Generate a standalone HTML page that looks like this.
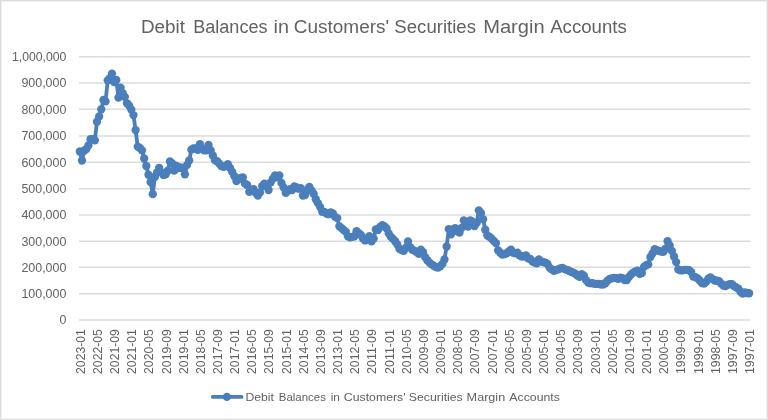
<!DOCTYPE html>
<html><head><meta charset="utf-8"><title>Debit Balances in Customers' Securities Margin Accounts</title>
<style>html,body{margin:0;padding:0;background:#fff;}svg{display:block;}text{font-family:"Liberation Sans",sans-serif;fill:#626262;}</style></head><body>
<svg width="768" height="420" viewBox="0 0 768 420">
<defs><filter id="tx" x="0" y="0" width="768" height="420" filterUnits="userSpaceOnUse"><feGaussianBlur stdDeviation="0.42"/></filter><filter id="tb" x="0" y="0" width="768" height="420" filterUnits="userSpaceOnUse"><feGaussianBlur stdDeviation="0.3"/></filter></defs>
<rect x="0" y="0" width="768" height="420" fill="#ffffff"/>
<g filter="url(#tb)">
<rect x="0.7" y="0.7" width="766.6" height="418.6" fill="none" stroke="#dcdcdc" stroke-width="1.4"/>
<line x1="79.00" y1="320.00" x2="750.40" y2="320.00" stroke="#dcdcdc" stroke-width="1.5"/>
<line x1="79.00" y1="293.70" x2="750.40" y2="293.70" stroke="#dcdcdc" stroke-width="1.5"/>
<line x1="79.00" y1="267.30" x2="750.40" y2="267.30" stroke="#dcdcdc" stroke-width="1.5"/>
<line x1="79.00" y1="241.25" x2="750.40" y2="241.25" stroke="#dcdcdc" stroke-width="1.5"/>
<line x1="79.00" y1="215.00" x2="750.40" y2="215.00" stroke="#dcdcdc" stroke-width="1.5"/>
<line x1="79.00" y1="188.70" x2="750.40" y2="188.70" stroke="#dcdcdc" stroke-width="1.5"/>
<line x1="79.00" y1="162.30" x2="750.40" y2="162.30" stroke="#dcdcdc" stroke-width="1.5"/>
<line x1="79.00" y1="135.95" x2="750.40" y2="135.95" stroke="#dcdcdc" stroke-width="1.5"/>
<line x1="79.00" y1="109.20" x2="750.40" y2="109.20" stroke="#dcdcdc" stroke-width="1.5"/>
<line x1="79.00" y1="83.00" x2="750.40" y2="83.00" stroke="#dcdcdc" stroke-width="1.5"/>
<line x1="79.00" y1="56.70" x2="750.40" y2="56.70" stroke="#dcdcdc" stroke-width="1.5"/>
<path d="M79.82 151.50 L81.97 160.53 L84.11 150.73 L86.26 149.15 L88.40 145.44 L90.55 139.14 L92.69 139.06 L94.84 140.30 L96.98 121.77 L99.13 116.45 L101.27 109.28 L103.42 99.95 L105.56 101.44 L107.71 80.37 L109.85 78.11 L112.00 73.56 L114.14 82.18 L116.29 79.98 L118.43 97.59 L120.58 87.69 L122.72 93.06 L124.87 96.83 L127.01 103.28 L129.16 105.61 L131.30 109.57 L133.45 115.08 L135.59 130.04 L137.74 146.67 L139.88 147.99 L142.03 150.31 L144.17 158.48 L146.32 166.00 L148.46 174.76 L150.61 182.18 L152.75 194.14 L154.90 176.79 L157.04 172.38 L159.19 167.79 L161.33 172.33 L163.48 174.97 L165.62 174.44 L167.77 170.75 L169.91 161.51 L172.06 163.28 L174.20 170.48 L176.35 166.00 L178.49 168.11 L180.64 167.32 L182.78 168.37 L184.93 174.36 L187.07 164.94 L189.22 160.32 L191.37 149.63 L193.51 148.49 L195.66 148.39 L197.80 149.92 L199.95 144.14 L202.09 148.52 L204.24 150.39 L206.38 150.42 L208.53 144.99 L210.67 150.44 L212.82 155.45 L214.96 160.19 L217.11 161.25 L219.25 163.62 L221.40 166.00 L223.54 166.79 L225.69 166.00 L227.83 164.15 L229.98 167.84 L232.12 171.80 L234.27 176.03 L236.41 181.04 L238.56 179.20 L240.70 177.88 L242.85 177.35 L244.99 183.68 L247.14 185.00 L249.28 191.86 L251.43 190.01 L253.57 189.23 L255.72 192.91 L257.86 195.54 L260.01 192.38 L262.15 186.06 L264.30 183.68 L266.44 186.06 L268.59 190.01 L270.73 182.36 L272.88 178.67 L275.02 175.50 L277.17 177.35 L279.31 175.50 L281.46 182.89 L283.60 187.38 L285.75 192.91 L287.89 191.07 L290.04 189.23 L292.18 190.01 L294.33 186.32 L296.47 187.38 L298.62 188.70 L300.76 188.17 L302.91 195.54 L305.05 195.01 L307.20 190.01 L309.34 186.85 L311.49 190.54 L313.63 193.70 L315.78 199.22 L317.92 203.17 L320.07 206.85 L322.21 211.84 L324.36 211.84 L326.50 213.69 L328.65 214.21 L330.79 212.37 L332.94 213.42 L335.08 216.84 L337.23 218.15 L339.37 226.29 L341.52 228.12 L343.66 229.96 L345.81 231.80 L347.95 236.26 L350.10 237.44 L352.24 236.79 L354.39 236.26 L356.53 231.27 L358.68 233.11 L360.82 234.95 L362.97 238.62 L365.11 240.46 L367.26 238.10 L369.40 236.26 L371.55 241.25 L373.69 238.62 L375.84 229.44 L377.98 229.96 L380.13 226.81 L382.27 225.24 L384.42 226.29 L386.56 228.39 L388.71 233.38 L390.85 236.79 L393.00 238.89 L395.14 241.25 L397.29 244.38 L399.43 248.80 L401.58 250.11 L403.72 250.89 L405.87 247.76 L408.01 241.51 L410.16 247.24 L412.30 249.85 L414.45 250.63 L416.60 252.19 L418.74 253.75 L420.89 249.59 L423.03 252.19 L425.18 257.14 L427.32 260.27 L429.47 262.61 L431.61 264.43 L433.76 265.74 L435.90 267.04 L438.05 267.56 L440.19 266.26 L442.34 263.91 L444.48 259.49 L446.63 246.46 L448.77 229.18 L450.92 234.43 L453.06 229.44 L455.21 228.12 L457.35 231.27 L459.50 232.59 L461.64 227.86 L463.79 220.35 L465.93 222.88 L468.08 226.55 L470.22 220.35 L472.37 221.56 L474.51 226.02 L476.66 222.88 L478.80 210.37 L480.95 212.90 L483.09 219.20 L485.24 229.70 L487.38 235.48 L489.53 236.79 L491.67 238.62 L493.82 240.99 L495.96 243.07 L498.11 250.37 L500.25 252.71 L502.40 254.54 L504.54 254.01 L506.69 253.36 L508.83 251.51 L510.98 249.59 L513.12 252.71 L515.27 253.36 L517.41 252.71 L519.56 255.32 L521.70 256.46 L523.85 256.46 L525.99 255.32 L528.14 258.31 L530.28 258.96 L532.43 261.41 L534.57 262.61 L536.72 263.26 L538.86 259.49 L541.01 261.41 L543.15 262.09 L545.30 262.61 L547.44 263.91 L549.59 267.56 L551.73 269.41 L553.88 270.73 L556.02 270.07 L558.17 269.28 L560.31 268.36 L562.46 267.83 L564.60 269.15 L566.75 269.94 L568.89 270.73 L571.04 271.79 L573.18 272.58 L575.33 273.77 L577.47 275.48 L579.62 276.80 L581.76 274.16 L583.91 275.75 L586.05 280.08 L588.20 282.61 L590.34 283.22 L592.49 283.22 L594.63 283.93 L596.78 283.93 L598.92 283.93 L601.07 284.46 L603.21 284.46 L605.36 283.22 L607.50 280.76 L609.65 278.92 L611.79 278.39 L613.94 277.86 L616.08 278.12 L618.23 278.92 L620.37 277.60 L622.52 278.12 L624.66 280.08 L626.81 280.08 L628.95 276.96 L631.10 274.43 L633.24 272.58 L635.39 271.31 L637.53 270.73 L639.68 273.90 L641.83 273.19 L643.97 266.94 L646.12 265.09 L648.26 264.43 L650.41 257.04 L652.55 253.31 L654.70 249.06 L656.84 250.24 L658.99 250.89 L661.13 251.67 L663.28 251.93 L665.42 248.80 L667.57 241.25 L669.71 245.42 L671.86 250.89 L674.00 256.46 L676.15 262.09 L678.29 269.41 L680.44 270.34 L682.58 270.34 L684.73 269.94 L686.87 269.94 L689.02 270.20 L691.16 272.05 L693.31 276.54 L695.45 277.07 L697.60 278.39 L699.74 280.50 L701.89 282.98 L704.03 283.67 L706.18 281.82 L708.32 278.65 L710.47 277.33 L712.61 279.18 L714.76 280.50 L716.90 280.76 L719.05 281.08 L721.19 283.67 L723.34 285.52 L725.48 286.10 L727.63 284.86 L729.77 284.20 L731.92 284.20 L734.06 286.10 L736.21 287.36 L738.35 288.68 L740.50 291.75 L742.64 293.62 L744.79 292.38 L746.93 292.99 L749.08 293.25" fill="none" stroke="#4c7fbc" stroke-width="3.8" stroke-linejoin="round" stroke-linecap="round"/>
<g fill="#4c7fbc">
<circle cx="79.82" cy="151.50" r="4.15"/>
<circle cx="81.97" cy="160.53" r="4.15"/>
<circle cx="84.11" cy="150.73" r="4.15"/>
<circle cx="86.26" cy="149.15" r="4.15"/>
<circle cx="88.40" cy="145.44" r="4.15"/>
<circle cx="90.55" cy="139.14" r="4.15"/>
<circle cx="92.69" cy="139.06" r="4.15"/>
<circle cx="94.84" cy="140.30" r="4.15"/>
<circle cx="96.98" cy="121.77" r="4.15"/>
<circle cx="99.13" cy="116.45" r="4.15"/>
<circle cx="101.27" cy="109.28" r="4.15"/>
<circle cx="103.42" cy="99.95" r="4.15"/>
<circle cx="105.56" cy="101.44" r="4.15"/>
<circle cx="107.71" cy="80.37" r="4.15"/>
<circle cx="109.85" cy="78.11" r="4.15"/>
<circle cx="112.00" cy="73.56" r="4.15"/>
<circle cx="114.14" cy="82.18" r="4.15"/>
<circle cx="116.29" cy="79.98" r="4.15"/>
<circle cx="118.43" cy="97.59" r="4.15"/>
<circle cx="120.58" cy="87.69" r="4.15"/>
<circle cx="122.72" cy="93.06" r="4.15"/>
<circle cx="124.87" cy="96.83" r="4.15"/>
<circle cx="127.01" cy="103.28" r="4.15"/>
<circle cx="129.16" cy="105.61" r="4.15"/>
<circle cx="131.30" cy="109.57" r="4.15"/>
<circle cx="133.45" cy="115.08" r="4.15"/>
<circle cx="135.59" cy="130.04" r="4.15"/>
<circle cx="137.74" cy="146.67" r="4.15"/>
<circle cx="139.88" cy="147.99" r="4.15"/>
<circle cx="142.03" cy="150.31" r="4.15"/>
<circle cx="144.17" cy="158.48" r="4.15"/>
<circle cx="146.32" cy="166.00" r="4.15"/>
<circle cx="148.46" cy="174.76" r="4.15"/>
<circle cx="150.61" cy="182.18" r="4.15"/>
<circle cx="152.75" cy="194.14" r="4.15"/>
<circle cx="154.90" cy="176.79" r="4.15"/>
<circle cx="157.04" cy="172.38" r="4.15"/>
<circle cx="159.19" cy="167.79" r="4.15"/>
<circle cx="161.33" cy="172.33" r="4.15"/>
<circle cx="163.48" cy="174.97" r="4.15"/>
<circle cx="165.62" cy="174.44" r="4.15"/>
<circle cx="167.77" cy="170.75" r="4.15"/>
<circle cx="169.91" cy="161.51" r="4.15"/>
<circle cx="172.06" cy="163.28" r="4.15"/>
<circle cx="174.20" cy="170.48" r="4.15"/>
<circle cx="176.35" cy="166.00" r="4.15"/>
<circle cx="178.49" cy="168.11" r="4.15"/>
<circle cx="180.64" cy="167.32" r="4.15"/>
<circle cx="182.78" cy="168.37" r="4.15"/>
<circle cx="184.93" cy="174.36" r="4.15"/>
<circle cx="187.07" cy="164.94" r="4.15"/>
<circle cx="189.22" cy="160.32" r="4.15"/>
<circle cx="191.37" cy="149.63" r="4.15"/>
<circle cx="193.51" cy="148.49" r="4.15"/>
<circle cx="195.66" cy="148.39" r="4.15"/>
<circle cx="197.80" cy="149.92" r="4.15"/>
<circle cx="199.95" cy="144.14" r="4.15"/>
<circle cx="202.09" cy="148.52" r="4.15"/>
<circle cx="204.24" cy="150.39" r="4.15"/>
<circle cx="206.38" cy="150.42" r="4.15"/>
<circle cx="208.53" cy="144.99" r="4.15"/>
<circle cx="210.67" cy="150.44" r="4.15"/>
<circle cx="212.82" cy="155.45" r="4.15"/>
<circle cx="214.96" cy="160.19" r="4.15"/>
<circle cx="217.11" cy="161.25" r="4.15"/>
<circle cx="219.25" cy="163.62" r="4.15"/>
<circle cx="221.40" cy="166.00" r="4.15"/>
<circle cx="223.54" cy="166.79" r="4.15"/>
<circle cx="225.69" cy="166.00" r="4.15"/>
<circle cx="227.83" cy="164.15" r="4.15"/>
<circle cx="229.98" cy="167.84" r="4.15"/>
<circle cx="232.12" cy="171.80" r="4.15"/>
<circle cx="234.27" cy="176.03" r="4.15"/>
<circle cx="236.41" cy="181.04" r="4.15"/>
<circle cx="238.56" cy="179.20" r="4.15"/>
<circle cx="240.70" cy="177.88" r="4.15"/>
<circle cx="242.85" cy="177.35" r="4.15"/>
<circle cx="244.99" cy="183.68" r="4.15"/>
<circle cx="247.14" cy="185.00" r="4.15"/>
<circle cx="249.28" cy="191.86" r="4.15"/>
<circle cx="251.43" cy="190.01" r="4.15"/>
<circle cx="253.57" cy="189.23" r="4.15"/>
<circle cx="255.72" cy="192.91" r="4.15"/>
<circle cx="257.86" cy="195.54" r="4.15"/>
<circle cx="260.01" cy="192.38" r="4.15"/>
<circle cx="262.15" cy="186.06" r="4.15"/>
<circle cx="264.30" cy="183.68" r="4.15"/>
<circle cx="266.44" cy="186.06" r="4.15"/>
<circle cx="268.59" cy="190.01" r="4.15"/>
<circle cx="270.73" cy="182.36" r="4.15"/>
<circle cx="272.88" cy="178.67" r="4.15"/>
<circle cx="275.02" cy="175.50" r="4.15"/>
<circle cx="277.17" cy="177.35" r="4.15"/>
<circle cx="279.31" cy="175.50" r="4.15"/>
<circle cx="281.46" cy="182.89" r="4.15"/>
<circle cx="283.60" cy="187.38" r="4.15"/>
<circle cx="285.75" cy="192.91" r="4.15"/>
<circle cx="287.89" cy="191.07" r="4.15"/>
<circle cx="290.04" cy="189.23" r="4.15"/>
<circle cx="292.18" cy="190.01" r="4.15"/>
<circle cx="294.33" cy="186.32" r="4.15"/>
<circle cx="296.47" cy="187.38" r="4.15"/>
<circle cx="298.62" cy="188.70" r="4.15"/>
<circle cx="300.76" cy="188.17" r="4.15"/>
<circle cx="302.91" cy="195.54" r="4.15"/>
<circle cx="305.05" cy="195.01" r="4.15"/>
<circle cx="307.20" cy="190.01" r="4.15"/>
<circle cx="309.34" cy="186.85" r="4.15"/>
<circle cx="311.49" cy="190.54" r="4.15"/>
<circle cx="313.63" cy="193.70" r="4.15"/>
<circle cx="315.78" cy="199.22" r="4.15"/>
<circle cx="317.92" cy="203.17" r="4.15"/>
<circle cx="320.07" cy="206.85" r="4.15"/>
<circle cx="322.21" cy="211.84" r="4.15"/>
<circle cx="324.36" cy="211.84" r="4.15"/>
<circle cx="326.50" cy="213.69" r="4.15"/>
<circle cx="328.65" cy="214.21" r="4.15"/>
<circle cx="330.79" cy="212.37" r="4.15"/>
<circle cx="332.94" cy="213.42" r="4.15"/>
<circle cx="335.08" cy="216.84" r="4.15"/>
<circle cx="337.23" cy="218.15" r="4.15"/>
<circle cx="339.37" cy="226.29" r="4.15"/>
<circle cx="341.52" cy="228.12" r="4.15"/>
<circle cx="343.66" cy="229.96" r="4.15"/>
<circle cx="345.81" cy="231.80" r="4.15"/>
<circle cx="347.95" cy="236.26" r="4.15"/>
<circle cx="350.10" cy="237.44" r="4.15"/>
<circle cx="352.24" cy="236.79" r="4.15"/>
<circle cx="354.39" cy="236.26" r="4.15"/>
<circle cx="356.53" cy="231.27" r="4.15"/>
<circle cx="358.68" cy="233.11" r="4.15"/>
<circle cx="360.82" cy="234.95" r="4.15"/>
<circle cx="362.97" cy="238.62" r="4.15"/>
<circle cx="365.11" cy="240.46" r="4.15"/>
<circle cx="367.26" cy="238.10" r="4.15"/>
<circle cx="369.40" cy="236.26" r="4.15"/>
<circle cx="371.55" cy="241.25" r="4.15"/>
<circle cx="373.69" cy="238.62" r="4.15"/>
<circle cx="375.84" cy="229.44" r="4.15"/>
<circle cx="377.98" cy="229.96" r="4.15"/>
<circle cx="380.13" cy="226.81" r="4.15"/>
<circle cx="382.27" cy="225.24" r="4.15"/>
<circle cx="384.42" cy="226.29" r="4.15"/>
<circle cx="386.56" cy="228.39" r="4.15"/>
<circle cx="388.71" cy="233.38" r="4.15"/>
<circle cx="390.85" cy="236.79" r="4.15"/>
<circle cx="393.00" cy="238.89" r="4.15"/>
<circle cx="395.14" cy="241.25" r="4.15"/>
<circle cx="397.29" cy="244.38" r="4.15"/>
<circle cx="399.43" cy="248.80" r="4.15"/>
<circle cx="401.58" cy="250.11" r="4.15"/>
<circle cx="403.72" cy="250.89" r="4.15"/>
<circle cx="405.87" cy="247.76" r="4.15"/>
<circle cx="408.01" cy="241.51" r="4.15"/>
<circle cx="410.16" cy="247.24" r="4.15"/>
<circle cx="412.30" cy="249.85" r="4.15"/>
<circle cx="414.45" cy="250.63" r="4.15"/>
<circle cx="416.60" cy="252.19" r="4.15"/>
<circle cx="418.74" cy="253.75" r="4.15"/>
<circle cx="420.89" cy="249.59" r="4.15"/>
<circle cx="423.03" cy="252.19" r="4.15"/>
<circle cx="425.18" cy="257.14" r="4.15"/>
<circle cx="427.32" cy="260.27" r="4.15"/>
<circle cx="429.47" cy="262.61" r="4.15"/>
<circle cx="431.61" cy="264.43" r="4.15"/>
<circle cx="433.76" cy="265.74" r="4.15"/>
<circle cx="435.90" cy="267.04" r="4.15"/>
<circle cx="438.05" cy="267.56" r="4.15"/>
<circle cx="440.19" cy="266.26" r="4.15"/>
<circle cx="442.34" cy="263.91" r="4.15"/>
<circle cx="444.48" cy="259.49" r="4.15"/>
<circle cx="446.63" cy="246.46" r="4.15"/>
<circle cx="448.77" cy="229.18" r="4.15"/>
<circle cx="450.92" cy="234.43" r="4.15"/>
<circle cx="453.06" cy="229.44" r="4.15"/>
<circle cx="455.21" cy="228.12" r="4.15"/>
<circle cx="457.35" cy="231.27" r="4.15"/>
<circle cx="459.50" cy="232.59" r="4.15"/>
<circle cx="461.64" cy="227.86" r="4.15"/>
<circle cx="463.79" cy="220.35" r="4.15"/>
<circle cx="465.93" cy="222.88" r="4.15"/>
<circle cx="468.08" cy="226.55" r="4.15"/>
<circle cx="470.22" cy="220.35" r="4.15"/>
<circle cx="472.37" cy="221.56" r="4.15"/>
<circle cx="474.51" cy="226.02" r="4.15"/>
<circle cx="476.66" cy="222.88" r="4.15"/>
<circle cx="478.80" cy="210.37" r="4.15"/>
<circle cx="480.95" cy="212.90" r="4.15"/>
<circle cx="483.09" cy="219.20" r="4.15"/>
<circle cx="485.24" cy="229.70" r="4.15"/>
<circle cx="487.38" cy="235.48" r="4.15"/>
<circle cx="489.53" cy="236.79" r="4.15"/>
<circle cx="491.67" cy="238.62" r="4.15"/>
<circle cx="493.82" cy="240.99" r="4.15"/>
<circle cx="495.96" cy="243.07" r="4.15"/>
<circle cx="498.11" cy="250.37" r="4.15"/>
<circle cx="500.25" cy="252.71" r="4.15"/>
<circle cx="502.40" cy="254.54" r="4.15"/>
<circle cx="504.54" cy="254.01" r="4.15"/>
<circle cx="506.69" cy="253.36" r="4.15"/>
<circle cx="508.83" cy="251.51" r="4.15"/>
<circle cx="510.98" cy="249.59" r="4.15"/>
<circle cx="513.12" cy="252.71" r="4.15"/>
<circle cx="515.27" cy="253.36" r="4.15"/>
<circle cx="517.41" cy="252.71" r="4.15"/>
<circle cx="519.56" cy="255.32" r="4.15"/>
<circle cx="521.70" cy="256.46" r="4.15"/>
<circle cx="523.85" cy="256.46" r="4.15"/>
<circle cx="525.99" cy="255.32" r="4.15"/>
<circle cx="528.14" cy="258.31" r="4.15"/>
<circle cx="530.28" cy="258.96" r="4.15"/>
<circle cx="532.43" cy="261.41" r="4.15"/>
<circle cx="534.57" cy="262.61" r="4.15"/>
<circle cx="536.72" cy="263.26" r="4.15"/>
<circle cx="538.86" cy="259.49" r="4.15"/>
<circle cx="541.01" cy="261.41" r="4.15"/>
<circle cx="543.15" cy="262.09" r="4.15"/>
<circle cx="545.30" cy="262.61" r="4.15"/>
<circle cx="547.44" cy="263.91" r="4.15"/>
<circle cx="549.59" cy="267.56" r="4.15"/>
<circle cx="551.73" cy="269.41" r="4.15"/>
<circle cx="553.88" cy="270.73" r="4.15"/>
<circle cx="556.02" cy="270.07" r="4.15"/>
<circle cx="558.17" cy="269.28" r="4.15"/>
<circle cx="560.31" cy="268.36" r="4.15"/>
<circle cx="562.46" cy="267.83" r="4.15"/>
<circle cx="564.60" cy="269.15" r="4.15"/>
<circle cx="566.75" cy="269.94" r="4.15"/>
<circle cx="568.89" cy="270.73" r="4.15"/>
<circle cx="571.04" cy="271.79" r="4.15"/>
<circle cx="573.18" cy="272.58" r="4.15"/>
<circle cx="575.33" cy="273.77" r="4.15"/>
<circle cx="577.47" cy="275.48" r="4.15"/>
<circle cx="579.62" cy="276.80" r="4.15"/>
<circle cx="581.76" cy="274.16" r="4.15"/>
<circle cx="583.91" cy="275.75" r="4.15"/>
<circle cx="586.05" cy="280.08" r="4.15"/>
<circle cx="588.20" cy="282.61" r="4.15"/>
<circle cx="590.34" cy="283.22" r="4.15"/>
<circle cx="592.49" cy="283.22" r="4.15"/>
<circle cx="594.63" cy="283.93" r="4.15"/>
<circle cx="596.78" cy="283.93" r="4.15"/>
<circle cx="598.92" cy="283.93" r="4.15"/>
<circle cx="601.07" cy="284.46" r="4.15"/>
<circle cx="603.21" cy="284.46" r="4.15"/>
<circle cx="605.36" cy="283.22" r="4.15"/>
<circle cx="607.50" cy="280.76" r="4.15"/>
<circle cx="609.65" cy="278.92" r="4.15"/>
<circle cx="611.79" cy="278.39" r="4.15"/>
<circle cx="613.94" cy="277.86" r="4.15"/>
<circle cx="616.08" cy="278.12" r="4.15"/>
<circle cx="618.23" cy="278.92" r="4.15"/>
<circle cx="620.37" cy="277.60" r="4.15"/>
<circle cx="622.52" cy="278.12" r="4.15"/>
<circle cx="624.66" cy="280.08" r="4.15"/>
<circle cx="626.81" cy="280.08" r="4.15"/>
<circle cx="628.95" cy="276.96" r="4.15"/>
<circle cx="631.10" cy="274.43" r="4.15"/>
<circle cx="633.24" cy="272.58" r="4.15"/>
<circle cx="635.39" cy="271.31" r="4.15"/>
<circle cx="637.53" cy="270.73" r="4.15"/>
<circle cx="639.68" cy="273.90" r="4.15"/>
<circle cx="641.83" cy="273.19" r="4.15"/>
<circle cx="643.97" cy="266.94" r="4.15"/>
<circle cx="646.12" cy="265.09" r="4.15"/>
<circle cx="648.26" cy="264.43" r="4.15"/>
<circle cx="650.41" cy="257.04" r="4.15"/>
<circle cx="652.55" cy="253.31" r="4.15"/>
<circle cx="654.70" cy="249.06" r="4.15"/>
<circle cx="656.84" cy="250.24" r="4.15"/>
<circle cx="658.99" cy="250.89" r="4.15"/>
<circle cx="661.13" cy="251.67" r="4.15"/>
<circle cx="663.28" cy="251.93" r="4.15"/>
<circle cx="665.42" cy="248.80" r="4.15"/>
<circle cx="667.57" cy="241.25" r="4.15"/>
<circle cx="669.71" cy="245.42" r="4.15"/>
<circle cx="671.86" cy="250.89" r="4.15"/>
<circle cx="674.00" cy="256.46" r="4.15"/>
<circle cx="676.15" cy="262.09" r="4.15"/>
<circle cx="678.29" cy="269.41" r="4.15"/>
<circle cx="680.44" cy="270.34" r="4.15"/>
<circle cx="682.58" cy="270.34" r="4.15"/>
<circle cx="684.73" cy="269.94" r="4.15"/>
<circle cx="686.87" cy="269.94" r="4.15"/>
<circle cx="689.02" cy="270.20" r="4.15"/>
<circle cx="691.16" cy="272.05" r="4.15"/>
<circle cx="693.31" cy="276.54" r="4.15"/>
<circle cx="695.45" cy="277.07" r="4.15"/>
<circle cx="697.60" cy="278.39" r="4.15"/>
<circle cx="699.74" cy="280.50" r="4.15"/>
<circle cx="701.89" cy="282.98" r="4.15"/>
<circle cx="704.03" cy="283.67" r="4.15"/>
<circle cx="706.18" cy="281.82" r="4.15"/>
<circle cx="708.32" cy="278.65" r="4.15"/>
<circle cx="710.47" cy="277.33" r="4.15"/>
<circle cx="712.61" cy="279.18" r="4.15"/>
<circle cx="714.76" cy="280.50" r="4.15"/>
<circle cx="716.90" cy="280.76" r="4.15"/>
<circle cx="719.05" cy="281.08" r="4.15"/>
<circle cx="721.19" cy="283.67" r="4.15"/>
<circle cx="723.34" cy="285.52" r="4.15"/>
<circle cx="725.48" cy="286.10" r="4.15"/>
<circle cx="727.63" cy="284.86" r="4.15"/>
<circle cx="729.77" cy="284.20" r="4.15"/>
<circle cx="731.92" cy="284.20" r="4.15"/>
<circle cx="734.06" cy="286.10" r="4.15"/>
<circle cx="736.21" cy="287.36" r="4.15"/>
<circle cx="738.35" cy="288.68" r="4.15"/>
<circle cx="740.50" cy="291.75" r="4.15"/>
<circle cx="742.64" cy="293.62" r="4.15"/>
<circle cx="744.79" cy="292.38" r="4.15"/>
<circle cx="746.93" cy="292.99" r="4.15"/>
<circle cx="749.08" cy="293.25" r="4.15"/>
</g>
<line x1="212.7" y1="396.9" x2="241.6" y2="396.9" stroke="#4c7fbc" stroke-width="3.7" stroke-linecap="round"/>
<circle cx="226.9" cy="396.9" r="4.2" fill="#4c7fbc"/>
</g>
<g filter="url(#tx)">
<text x="66.4" y="324.40" font-size="12.6" text-anchor="end" textLength="6.90" lengthAdjust="spacingAndGlyphs">0</text>
<text x="66.4" y="298.10" font-size="12.6" text-anchor="end" textLength="45.00" lengthAdjust="spacingAndGlyphs">100,000</text>
<text x="66.4" y="271.70" font-size="12.6" text-anchor="end" textLength="45.00" lengthAdjust="spacingAndGlyphs">200,000</text>
<text x="66.4" y="245.65" font-size="12.6" text-anchor="end" textLength="45.00" lengthAdjust="spacingAndGlyphs">300,000</text>
<text x="66.4" y="219.40" font-size="12.6" text-anchor="end" textLength="45.00" lengthAdjust="spacingAndGlyphs">400,000</text>
<text x="66.4" y="193.10" font-size="12.6" text-anchor="end" textLength="45.00" lengthAdjust="spacingAndGlyphs">500,000</text>
<text x="66.4" y="166.70" font-size="12.6" text-anchor="end" textLength="45.00" lengthAdjust="spacingAndGlyphs">600,000</text>
<text x="66.4" y="140.35" font-size="12.6" text-anchor="end" textLength="45.00" lengthAdjust="spacingAndGlyphs">700,000</text>
<text x="66.4" y="113.60" font-size="12.6" text-anchor="end" textLength="45.00" lengthAdjust="spacingAndGlyphs">800,000</text>
<text x="66.4" y="87.40" font-size="12.6" text-anchor="end" textLength="45.00" lengthAdjust="spacingAndGlyphs">900,000</text>
<text x="66.4" y="61.10" font-size="12.6" text-anchor="end" textLength="54.40" lengthAdjust="spacingAndGlyphs">1,000,000</text>
<text x="140.98" y="32.6" font-size="18" textLength="43.92" lengthAdjust="spacingAndGlyphs">Debit</text>
<text x="193.23" y="32.6" font-size="18" textLength="74.27" lengthAdjust="spacingAndGlyphs">Balances</text>
<text x="273.63" y="32.6" font-size="18" textLength="15.38" lengthAdjust="spacingAndGlyphs">in</text>
<text x="293.84" y="32.6" font-size="18" textLength="95.32" lengthAdjust="spacingAndGlyphs">Customers'</text>
<text x="394.39" y="32.6" font-size="18" textLength="81.62" lengthAdjust="spacingAndGlyphs">Securities</text>
<text x="483.17" y="32.6" font-size="18" textLength="61.41" lengthAdjust="spacingAndGlyphs">Margin</text>
<text x="550.20" y="32.6" font-size="18" textLength="76.65" lengthAdjust="spacingAndGlyphs">Accounts</text>
<text transform="translate(84.72,373.9) rotate(-90)" font-size="12.2" textLength="44.7" lengthAdjust="spacingAndGlyphs">2023-01</text>
<text transform="translate(101.88,373.9) rotate(-90)" font-size="12.2" textLength="44.7" lengthAdjust="spacingAndGlyphs">2022-05</text>
<text transform="translate(119.04,373.9) rotate(-90)" font-size="12.2" textLength="44.7" lengthAdjust="spacingAndGlyphs">2021-09</text>
<text transform="translate(136.20,373.9) rotate(-90)" font-size="12.2" textLength="44.7" lengthAdjust="spacingAndGlyphs">2021-01</text>
<text transform="translate(153.36,373.9) rotate(-90)" font-size="12.2" textLength="44.7" lengthAdjust="spacingAndGlyphs">2020-05</text>
<text transform="translate(170.52,373.9) rotate(-90)" font-size="12.2" textLength="44.7" lengthAdjust="spacingAndGlyphs">2019-09</text>
<text transform="translate(187.68,373.9) rotate(-90)" font-size="12.2" textLength="44.7" lengthAdjust="spacingAndGlyphs">2019-01</text>
<text transform="translate(204.85,373.9) rotate(-90)" font-size="12.2" textLength="44.7" lengthAdjust="spacingAndGlyphs">2018-05</text>
<text transform="translate(222.01,373.9) rotate(-90)" font-size="12.2" textLength="44.7" lengthAdjust="spacingAndGlyphs">2017-09</text>
<text transform="translate(239.17,373.9) rotate(-90)" font-size="12.2" textLength="44.7" lengthAdjust="spacingAndGlyphs">2017-01</text>
<text transform="translate(256.33,373.9) rotate(-90)" font-size="12.2" textLength="44.7" lengthAdjust="spacingAndGlyphs">2016-05</text>
<text transform="translate(273.49,373.9) rotate(-90)" font-size="12.2" textLength="44.7" lengthAdjust="spacingAndGlyphs">2015-09</text>
<text transform="translate(290.65,373.9) rotate(-90)" font-size="12.2" textLength="44.7" lengthAdjust="spacingAndGlyphs">2015-01</text>
<text transform="translate(307.81,373.9) rotate(-90)" font-size="12.2" textLength="44.7" lengthAdjust="spacingAndGlyphs">2014-05</text>
<text transform="translate(324.97,373.9) rotate(-90)" font-size="12.2" textLength="44.7" lengthAdjust="spacingAndGlyphs">2013-09</text>
<text transform="translate(342.13,373.9) rotate(-90)" font-size="12.2" textLength="44.7" lengthAdjust="spacingAndGlyphs">2013-01</text>
<text transform="translate(359.29,373.9) rotate(-90)" font-size="12.2" textLength="44.7" lengthAdjust="spacingAndGlyphs">2012-05</text>
<text transform="translate(376.45,373.9) rotate(-90)" font-size="12.2" textLength="44.7" lengthAdjust="spacingAndGlyphs">2011-09</text>
<text transform="translate(393.61,373.9) rotate(-90)" font-size="12.2" textLength="44.7" lengthAdjust="spacingAndGlyphs">2011-01</text>
<text transform="translate(410.77,373.9) rotate(-90)" font-size="12.2" textLength="44.7" lengthAdjust="spacingAndGlyphs">2010-05</text>
<text transform="translate(427.93,373.9) rotate(-90)" font-size="12.2" textLength="44.7" lengthAdjust="spacingAndGlyphs">2009-09</text>
<text transform="translate(445.09,373.9) rotate(-90)" font-size="12.2" textLength="44.7" lengthAdjust="spacingAndGlyphs">2009-01</text>
<text transform="translate(462.25,373.9) rotate(-90)" font-size="12.2" textLength="44.7" lengthAdjust="spacingAndGlyphs">2008-05</text>
<text transform="translate(479.41,373.9) rotate(-90)" font-size="12.2" textLength="44.7" lengthAdjust="spacingAndGlyphs">2007-09</text>
<text transform="translate(496.57,373.9) rotate(-90)" font-size="12.2" textLength="44.7" lengthAdjust="spacingAndGlyphs">2007-01</text>
<text transform="translate(513.73,373.9) rotate(-90)" font-size="12.2" textLength="44.7" lengthAdjust="spacingAndGlyphs">2006-05</text>
<text transform="translate(530.89,373.9) rotate(-90)" font-size="12.2" textLength="44.7" lengthAdjust="spacingAndGlyphs">2005-09</text>
<text transform="translate(548.05,373.9) rotate(-90)" font-size="12.2" textLength="44.7" lengthAdjust="spacingAndGlyphs">2005-01</text>
<text transform="translate(565.21,373.9) rotate(-90)" font-size="12.2" textLength="44.7" lengthAdjust="spacingAndGlyphs">2004-05</text>
<text transform="translate(582.37,373.9) rotate(-90)" font-size="12.2" textLength="44.7" lengthAdjust="spacingAndGlyphs">2003-09</text>
<text transform="translate(599.53,373.9) rotate(-90)" font-size="12.2" textLength="44.7" lengthAdjust="spacingAndGlyphs">2003-01</text>
<text transform="translate(616.69,373.9) rotate(-90)" font-size="12.2" textLength="44.7" lengthAdjust="spacingAndGlyphs">2002-05</text>
<text transform="translate(633.85,373.9) rotate(-90)" font-size="12.2" textLength="44.7" lengthAdjust="spacingAndGlyphs">2001-09</text>
<text transform="translate(651.02,373.9) rotate(-90)" font-size="12.2" textLength="44.7" lengthAdjust="spacingAndGlyphs">2001-01</text>
<text transform="translate(668.18,373.9) rotate(-90)" font-size="12.2" textLength="44.7" lengthAdjust="spacingAndGlyphs">2000-05</text>
<text transform="translate(685.34,373.9) rotate(-90)" font-size="12.2" textLength="44.7" lengthAdjust="spacingAndGlyphs">1999-09</text>
<text transform="translate(702.50,373.9) rotate(-90)" font-size="12.2" textLength="44.7" lengthAdjust="spacingAndGlyphs">1999-01</text>
<text transform="translate(719.66,373.9) rotate(-90)" font-size="12.2" textLength="44.7" lengthAdjust="spacingAndGlyphs">1998-05</text>
<text transform="translate(736.82,373.9) rotate(-90)" font-size="12.2" textLength="44.7" lengthAdjust="spacingAndGlyphs">1997-09</text>
<text transform="translate(753.98,373.9) rotate(-90)" font-size="12.2" textLength="44.7" lengthAdjust="spacingAndGlyphs">1997-01</text>
<text x="245.44" y="400.6" font-size="11.8" textLength="28.56" lengthAdjust="spacingAndGlyphs">Debit</text>
<text x="278.80" y="400.6" font-size="11.8" textLength="47.16" lengthAdjust="spacingAndGlyphs">Balances</text>
<text x="330.73" y="400.6" font-size="11.8" textLength="9.20" lengthAdjust="spacingAndGlyphs">in</text>
<text x="343.80" y="400.6" font-size="11.8" textLength="61.76" lengthAdjust="spacingAndGlyphs">Customers'</text>
<text x="408.84" y="400.6" font-size="11.8" textLength="53.91" lengthAdjust="spacingAndGlyphs">Securities</text>
<text x="466.64" y="400.6" font-size="11.8" textLength="38.56" lengthAdjust="spacingAndGlyphs">Margin</text>
<text x="509.35" y="400.6" font-size="11.8" textLength="50.55" lengthAdjust="spacingAndGlyphs">Accounts</text>
</g>
</svg></body></html>
